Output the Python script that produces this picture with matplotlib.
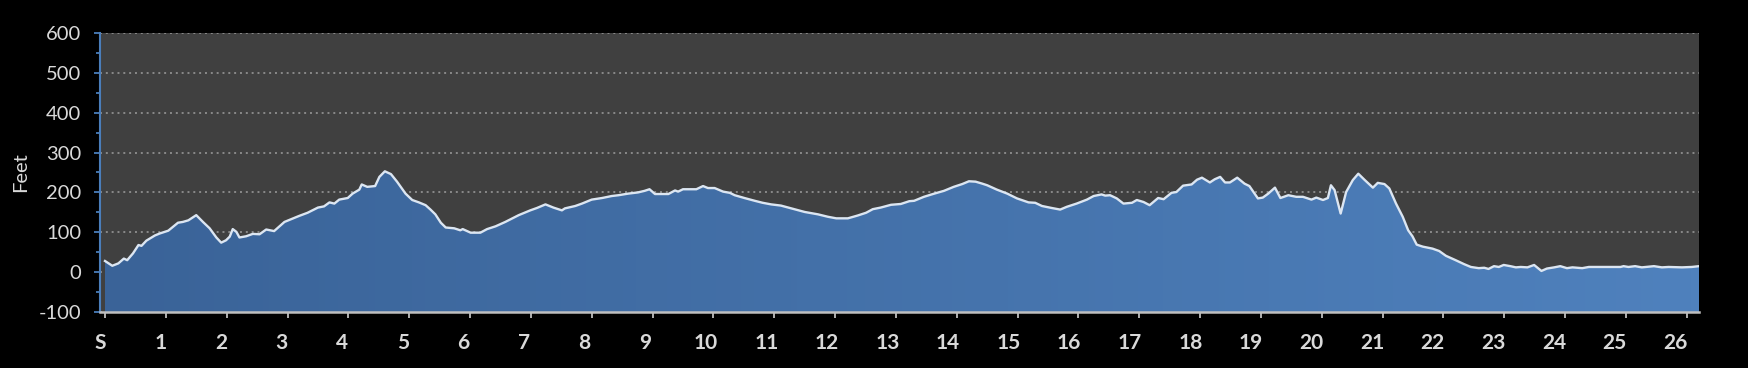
#!/usr/bin/env python3
"""Marathon elevation profile (feet vs miles), dark Excel-style area chart."""
import matplotlib

matplotlib.use("Agg")
import matplotlib.pyplot as plt
import numpy as np
from matplotlib.colors import LinearSegmentedColormap
from matplotlib.patches import Polygon

plt.rcParams["font.family"] = ["Lato", "DejaVu Sans"]
plt.rcParams["axes.unicode_minus"] = False

# elevation profile (miles, feet)
miles = [
    0.00, 0.12, 0.22, 0.31, 0.365, 0.46, 0.55, 0.60, 0.68, 0.82, 0.90, 1.04, 1.12, 1.20, 1.28,
    1.37, 1.50, 1.61, 1.72, 1.83, 1.91, 1.99, 2.05, 2.10, 2.16, 2.21, 2.32, 2.43, 2.54, 2.65,
    2.78, 2.95, 3.06, 3.19, 3.33, 3.50, 3.60, 3.69, 3.77, 3.85, 3.99, 4.07, 4.18, 4.22, 4.31,
    4.44, 4.51, 4.60, 4.70, 4.80, 4.94, 5.05, 5.16, 5.27, 5.35, 5.43, 5.52, 5.60, 5.74, 5.84,
    5.88, 6.01, 6.17, 6.28, 6.42, 6.58, 6.80, 6.99, 7.10, 7.24, 7.37, 7.51, 7.56, 7.73, 7.84,
    8.00, 8.17, 8.33, 8.44, 8.60, 8.76, 8.87, 8.95, 9.04, 9.26, 9.37, 9.42, 9.50, 9.72, 9.83,
    9.91, 10.02, 10.16, 10.27, 10.35, 10.51, 10.68, 10.81, 10.95, 11.11, 11.28, 11.50, 11.72,
    11.88, 12.02, 12.21, 12.37, 12.51, 12.62, 12.75, 12.92, 13.08, 13.22, 13.30, 13.46, 13.63,
    13.79, 13.95, 14.09, 14.20, 14.31, 14.42, 14.50, 14.66, 14.83, 14.99, 15.18, 15.29, 15.40,
    15.56, 15.70, 15.81, 15.97, 16.14, 16.25, 16.38, 16.44, 16.52, 16.63, 16.74, 16.88, 16.96,
    17.07, 17.17, 17.31, 17.40, 17.53, 17.61, 17.72, 17.86, 17.95, 18.03, 18.16, 18.24, 18.33,
    18.41, 18.49, 18.61, 18.73, 18.81, 18.95, 19.03, 19.12, 19.23, 19.32, 19.45, 19.58, 19.69,
    19.83, 19.91, 20.02, 20.10, 20.15, 20.21, 20.31, 20.40, 20.51, 20.60, 20.70, 20.84, 20.92,
    21.03, 21.11, 21.22, 21.33, 21.42, 21.49, 21.56, 21.66, 21.82, 21.93, 22.04, 22.20, 22.34,
    22.45, 22.58, 22.67, 22.74, 22.83, 22.91, 22.99, 23.10, 23.19, 23.27, 23.38, 23.49, 23.61,
    23.70, 23.82, 23.92, 24.03, 24.12, 24.28, 24.39, 24.52, 24.71, 24.91, 24.96, 25.04, 25.15,
    25.26, 25.46, 25.59, 25.70, 25.92, 26.08, 26.20,
]
feet = [
    28, 16, 22, 34, 30, 47, 68, 66, 79, 92, 97, 104, 114, 124, 126,
    130, 143, 126, 110, 87, 74, 80, 89, 108, 101, 87, 90, 96, 95, 107,
    103, 126, 133, 141, 149, 162, 165, 175, 172, 182, 186, 197, 207, 220, 214,
    216, 239, 253, 246, 227, 197, 181, 175, 168, 157, 145, 124, 112, 110, 105,
    108, 99, 99, 108, 115, 126, 143, 155, 161, 170, 162, 155, 160, 166, 172,
    182, 186, 191, 193, 197, 200, 204, 208, 196, 196, 205, 202, 208, 208, 216,
    211, 211, 202, 199, 193, 186, 179, 174, 170, 167, 160, 151, 145,
    139, 135, 135, 142, 149, 158, 162, 169, 171, 178, 179, 189, 197,
    204, 214, 221, 228, 227, 222, 218, 207, 197, 185, 175, 174, 166,
    161, 157, 164, 172, 182, 191, 195, 192, 193, 185, 172, 174, 181,
    176, 168, 186, 183, 199, 201, 217, 220, 232, 237, 225, 233, 239,
    225, 225, 237, 222, 216, 185, 187, 197, 212, 186, 193, 189, 189,
    182, 187, 181, 186, 218, 206, 147, 201, 231, 247, 232, 212, 224,
    221, 210, 172, 139, 105, 90, 69, 64, 59, 53, 41, 30, 20,
    13, 10, 11, 8, 15, 13, 18, 15, 12, 13, 12, 18, 3,
    9, 12, 15, 10, 12, 10, 13, 13, 13, 13, 15, 13, 15,
    12, 15, 12, 13, 12, 13, 15,
]

mile_ticks = list(range(27))
mile_labels = ["S"] + [str(m) for m in range(1, 27)]
feet_ticks = [-100, 0, 100, 200, 300, 400, 500, 600]

TEXT = "#d9d9d9"
BLUE_AXIS = "#4a7ebb"

fig = plt.figure(figsize=(17.48, 3.68), dpi=100, facecolor="black")
ax = fig.add_axes([100 / 1748, 1 - 312 / 368, 1599 / 1748, 279 / 368])
ax.set_facecolor("#404040")

x = np.array(miles)
y = np.array(feet)
ax.set_xlim(0, 26.2)
ax.set_ylim(-100, 600)

# horizontal gradient fill clipped to the profile
verts = np.vstack([np.column_stack([x, y]), [[x[-1], -100], [x[0], -100]]])
clip = Polygon(verts, closed=True, facecolor="none", edgecolor="none")
ax.add_patch(clip)
cmap = LinearSegmentedColormap.from_list("elev", ["#3a6398", "#4f81bd"])
img = ax.imshow(np.linspace(0, 1, 256)[None, :], cmap=cmap, aspect="auto",
                extent=[0, 26.2, -100, 600], zorder=2, interpolation="bilinear")
img.set_clip_path(clip)
ax.plot(x, y, color="#dce6f2", lw=1.7, zorder=3, solid_joinstyle="round")

# grid
ax.set_axisbelow(True)
ax.yaxis.grid(True, color="#8a8a8a", lw=1.4, linestyle=(0, (1, 2)))
ax.xaxis.grid(False)

# y axis
ax.set_yticks(feet_ticks)
ax.set_yticks(np.arange(-50, 600, 100), minor=True)
ax.tick_params(axis="y", which="major", length=4.5, width=1.3, color=BLUE_AXIS,
               labelcolor=TEXT, labelsize=14.5, pad=9)
ax.tick_params(axis="y", which="minor", length=3, width=1.3, color=BLUE_AXIS)
ax.set_ylabel("Feet", color=TEXT, fontsize=14.5)
ax.yaxis.set_label_coords(-71 / 1599, 0.5)

# x axis: tick marks at each mile, labels drift slightly left like the original
ax.set_xticks(mile_ticks)
ax.set_xticklabels([])
ax.set_xticks([m * 0.9957 - 0.082 for m in mile_ticks], minor=True)
ax.set_xticklabels(mile_labels, minor=True, fontweight="bold")
ax.tick_params(axis="x", which="major", length=4.5, width=1.3, color="#bfbfbf")
ax.tick_params(axis="x", which="minor", length=0, labelcolor=TEXT, labelsize=15, pad=15)

for side in ("top", "right"):
    ax.spines[side].set_visible(False)
ax.spines["left"].set_color(BLUE_AXIS)
ax.spines["left"].set_linewidth(1.5)
ax.spines["bottom"].set_color("#bfbfbf")
ax.spines["bottom"].set_linewidth(1.8)
ax.spines["bottom"].set_zorder(4)

fig.savefig("out.png", dpi=100, facecolor="black")
